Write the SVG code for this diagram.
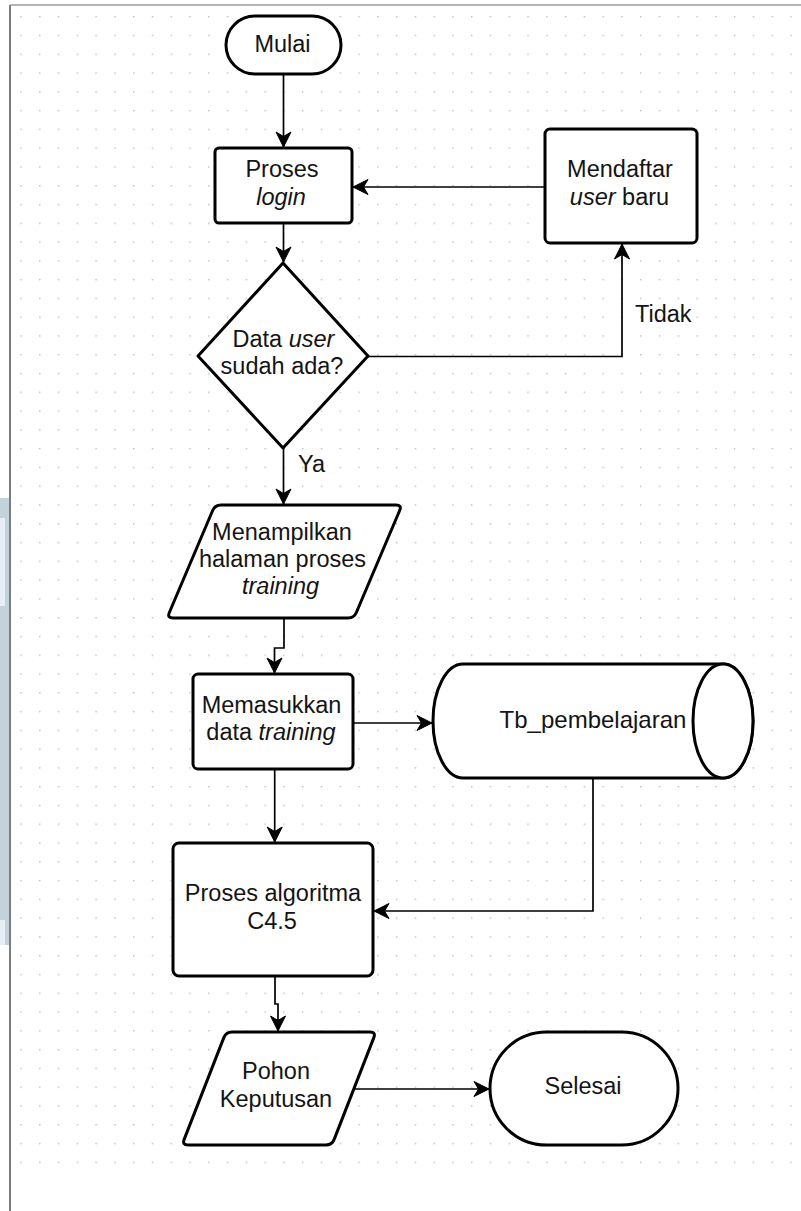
<svg xmlns="http://www.w3.org/2000/svg" width="801" height="1211" viewBox="0 0 801 1211">
  <defs>
    <pattern id="dots" x="20.3" y="16" width="18.78" height="18.78" patternUnits="userSpaceOnUse">
      <rect x="0" y="0" width="1.4" height="1.4" fill="#bdbdbd"/>
    </pattern>
    <marker id="arrow" markerUnits="userSpaceOnUse" markerWidth="18" markerHeight="18" viewBox="-16 -9 18 18" refX="0" refY="0" orient="auto">
      <path d="M0,0 L-15,-7.5 L-10.5,0 L-15,7.5 Z" fill="#000" stroke="#000" stroke-width="1" stroke-linejoin="miter"/>
    </marker>
    <style>
      .shape { fill: #fff; stroke: #000; stroke-width: 3; stroke-linejoin: round; }
      .edge { fill: none; stroke: #000; stroke-width: 1.7; marker-end: url(#arrow); }
      .label { font-family: "Liberation Sans", Arial, sans-serif; font-size: 23.5px; fill: #141414; text-anchor: middle; }
      .free { text-anchor: start; }
      .it { font-style: italic; }
    </style>
  </defs>

  <!-- page background, dotted grid and frame -->
  <rect x="0" y="0" width="801" height="1211" fill="#fff"/>
  <rect x="11" y="6" width="790" height="1164" fill="url(#dots)"/>
  <rect x="0" y="498" width="9.5" height="447" fill="#c3d3db"/>
  <rect x="0" y="518" width="5" height="88" fill="#e8eff4"/>
  <rect x="0" y="920" width="5" height="25" fill="#e8eff4"/>
  <line x1="10" y1="5" x2="801" y2="5" stroke="#9c9c9c" stroke-width="1.6"/>
  <line x1="10" y1="5" x2="10" y2="1211" stroke="#7c7c7c" stroke-width="2"/>

  <!-- connectors -->
  <g id="connectors">
    <path class="edge" d="M283.5,74 L283.5,147"/>
    <path class="edge" d="M545,187 L353,187"/>
    <path class="edge" d="M283.5,223 L283.5,262"/>
    <path class="edge" d="M368,356.5 L622,356.5 L622,244"/>
    <path class="edge" d="M283.5,448 L283.5,504"/>
    <path class="edge" d="M284,618 L284,648 L274.5,648 L274.5,673"/>
    <path class="edge" d="M353,723 L432,723"/>
    <path class="edge" d="M274.7,769 L274.7,842"/>
    <path class="edge" d="M593,778 L593,911 L374,911"/>
    <path class="edge" d="M275,976 L275,1004 L278,1004 L278,1031"/>
    <path class="edge" d="M355,1089 L489,1089"/>
    <text class="label free" x="298" y="472">Ya</text>
    <text class="label free" x="635" y="322">Tidak</text>
  </g>

  <g id="mulai">
    <rect class="shape" x="226" y="16" width="115" height="58" rx="29" ry="29"/>
    <text class="label" x="282.5" y="52">Mulai</text>
  </g>

  <g id="proses-login">
    <rect class="shape" x="215" y="148" width="137" height="75" rx="4"/>
    <text class="label" x="282" y="177">Proses</text>
    <text class="label it" x="281" y="204.5">login</text>
  </g>

  <g id="mendaftar-user">
    <rect class="shape" x="545" y="129" width="152" height="114" rx="5"/>
    <text class="label" x="620" y="177">Mendaftar</text>
    <text class="label" x="619.5" y="205"><tspan class="it">user</tspan> baru</text>
  </g>

  <g id="cek-user">
    <path class="shape" d="M283,263 L368,356 L283,448 L198,356 Z"/>
    <text class="label" x="283.5" y="347">Data <tspan class="it">user</tspan></text>
    <text class="label" x="282" y="374">sudah ada?</text>
  </g>

  <g id="halaman-training">
    <path class="shape" d="M221,505 L396,505 Q402,505 399.65,510.52 L356.35,612.48 Q354,618 348,618 L173,618 Q167,618 169.35,612.48 L212.65,510.52 Q215,505 221,505 Z"/>
    <text class="label" x="282" y="539.5">Menampilkan</text>
    <text class="label" x="282.5" y="567">halaman proses</text>
    <text class="label it" x="280.5" y="594">training</text>
  </g>

  <g id="input-training">
    <rect class="shape" x="193" y="674" width="160" height="95" rx="5"/>
    <text class="label" x="271.5" y="713">Memasukkan</text>
    <text class="label" x="271" y="740">data <tspan class="it">training</tspan></text>
  </g>

  <g id="tb-pembelajaran">
    <path class="shape" d="M463,664 L723,664 A30,57 0 0 1 723,778 L463,778 A30,57 0 0 1 463,664 Z"/>
    <ellipse class="shape" cx="723" cy="721" rx="30" ry="57" fill="none"/>
    <text class="label" x="593" y="728" style="font-size:24px">Tb_pembelajaran</text>
  </g>

  <g id="proses-c45">
    <rect class="shape" x="173" y="843" width="200" height="133" rx="6"/>
    <text class="label" x="273" y="901">Proses algoritma</text>
    <text class="label" x="272" y="929">C4.5</text>
  </g>

  <g id="pohon-keputusan">
    <path class="shape" d="M232,1032 L370,1032 Q376,1032 373.82,1037.59 L334.18,1139.41 Q332,1145 326,1145 L188,1145 Q182,1145 184.18,1139.41 L223.82,1037.59 Q226,1032 232,1032 Z"/>
    <text class="label" x="276" y="1079">Pohon</text>
    <text class="label" x="276" y="1107">Keputusan</text>
  </g>

  <g id="selesai">
    <rect class="shape" x="490" y="1032" width="188" height="113" rx="56.5" ry="56.5"/>
    <text class="label" x="583" y="1094">Selesai</text>
  </g>
</svg>
